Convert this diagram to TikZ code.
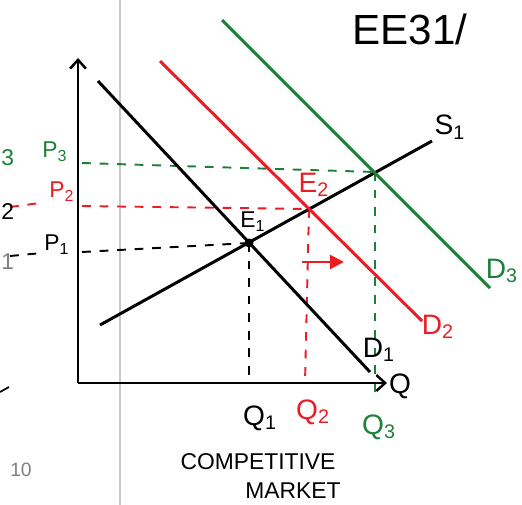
\documentclass[tikz,border=0pt]{standalone}
\usepackage{fontspec}
\setmainfont{Liberation Sans}
\usetikzlibrary{arrows.meta}
\definecolor{hgreen}{RGB}{28,128,56}
\definecolor{hred}{RGB}{236,28,36}
\definecolor{pagegray}{RGB}{200,200,200}
\tikzset{
  curve/.style={line width=1.7pt},
  axisline/.style={line width=1.7pt,-{Straight Barb[length=5pt,width=9pt,line width=1.4pt]}},
  guide/.style={line width=1.1pt,dash pattern=on 5pt off 5pt},
  lbl/.style={inner sep=0pt,font=\fontsize{13}{15}\selectfont},
  biglbl/.style={inner sep=0pt,font=\fontsize{16}{18}\selectfont},
}
\begin{document}
\begin{tikzpicture}[x=0.02cm,y=-0.02cm]
\useasboundingbox (0,0) rectangle (522,505);
% page edge line
\draw[pagegray,line width=0.6pt] (120,0) -- (120,505);
% coordinates
\coordinate (O) at (78,383);
\coordinate (Ytop) at (78,58);
\coordinate (Xend) at (387,383);
\coordinate (D1a) at (98,81);
\coordinate (D1b) at (370,372);
\coordinate (S1a) at (100,325);
\coordinate (S1b) at (432,141);
\coordinate (D2a) at (160,61);
\coordinate (D2b) at (422,321);
\coordinate (D3a) at (222,20);
\coordinate (D3b) at (490,288);
\coordinate (E1) at (249,243);
\coordinate (E2) at (309,209);
\coordinate (E3) at (375,172);
\coordinate (P1a) at (82,252);
\coordinate (P2a) at (82,206);
\coordinate (P3a) at (82,163);
\coordinate (Q1b) at (249,383);
\coordinate (Q2b) at (305,383);
\coordinate (Q3b) at (375,396);
\coordinate (ArA) at (302,262);
\coordinate (ArB) at (344,262);
% guide lines
\draw[guide] (P1a) -- (E1);
\draw[guide] (E1) -- (Q1b);
\draw[guide] (10,256) -- (42,253);
\draw[guide,hred] (P2a) -- (E2);
\draw[guide,hred] (E2) -- (Q2b);
\draw[guide,hred] (10,207) -- (40,203);
\draw[guide,hgreen] (P3a) -- (E3);
\draw[guide,hgreen] (E3) -- (Q3b);
% curves
\draw[curve] (D1a) -- (D1b);
\draw[curve] (S1a) -- (S1b);
\draw[curve,hred] (D2a) -- (D2b);
\draw[curve,hgreen] (D3a) -- (D3b);
% axes
\draw[axisline] (O) -- (Ytop);
\draw[axisline] (O) -- (Xend);
% equilibrium dot
\fill (E1) circle (4.5);
% shift arrow
\draw[hred,line width=1.3pt,-{Triangle[length=8pt,width=8pt]}] (ArA) -- (ArB);
% labels
\node[inner sep=0pt,font=\fontsize{24}{28}\selectfont] (title) at (410,29) {EE31/};
\node[biglbl] (S1) at (450,127) {S\textsubscript{1}};
\node[lbl] (E1l) at (253,222) {E\textsubscript{1}};
\node[biglbl,hred] (E2l) at (314,185) {E\textsubscript{2}};
\node[lbl] (P1l) at (57,245) {P\textsubscript{1}};
\node[lbl,hred] (P2l) at (62,192) {P\textsubscript{2}};
\node[lbl,hgreen] (P3l) at (55,152) {P\textsubscript{3}};
\node[biglbl] (Q1l) at (260,418) {Q\textsubscript{1}};
\node[biglbl,hred] (Q2l) at (313,412) {Q\textsubscript{2}};
\node[biglbl,hgreen] (Q3l) at (379,427) {Q\textsubscript{3}};
\node[biglbl] (Ql) at (400,386) {Q};
\node[biglbl] (D1l) at (379,350) {D\textsubscript{1}};
\node[biglbl,hred] (D2l) at (438,327) {D\textsubscript{2}};
\node[biglbl,hgreen] (D3l) at (502,271) {D\textsubscript{3}};
\node[lbl] (comp) at (258,462) {COMPETITIVE};
\node[lbl] (mkt) at (293,491) {MARKET};
\node[inner sep=0pt,text=gray,font=\fontsize{11}{13}\selectfont] (pg) at (21,470) {10};
% glyphs at the left edge
\node[lbl,hgreen,anchor=west] (edge3) at (1,158) {3};
\node[lbl,anchor=west] (edge2) at (1,212) {2};
\node[lbl,text=gray,anchor=west] (edge1) at (1,262) {1};
\draw[line width=1pt] (0,392) -- (9,387);
\end{tikzpicture}
\end{document}
